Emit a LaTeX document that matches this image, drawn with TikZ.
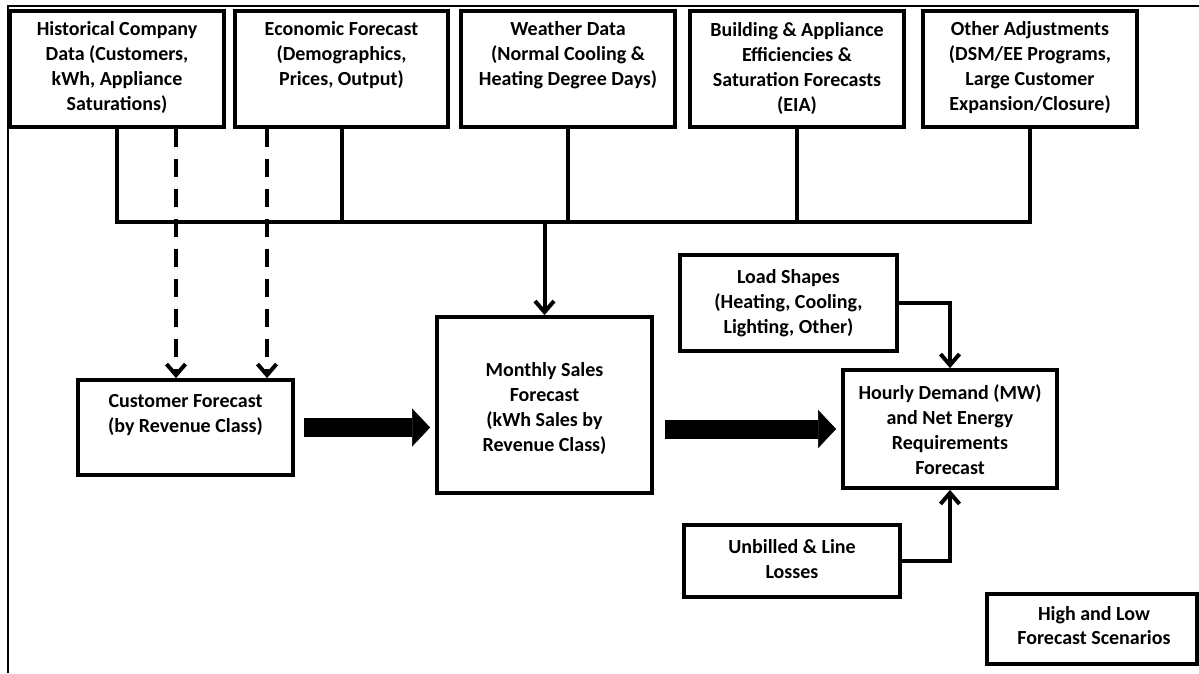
\documentclass[tikz,border=0pt]{standalone}
\usepackage{fontspec}
\setmainfont{Carlito}
\usetikzlibrary{arrows.meta,calc}
\begin{document}
\begin{tikzpicture}[x=1pt,y=-1pt,
  box/.style={draw, line width=3.8pt, inner sep=0pt, minimum width=#1},
  txt/.style={font=\fontsize{20}{25}\selectfont\bfseries, align=center, inner sep=0pt},
  conn/.style={line width=4pt},
  arr/.style={line width=4pt, -{Straight Barb[length=11pt,width=19pt]}},
  dasharr/.style={line width=4.5pt, dash pattern=on 18pt off 12pt, -{Straight Barb[length=11pt,width=19pt,line width=4pt]}},
  fat/.style={line width=19pt, -{Triangle[length=18pt,width=38pt,line width=0.5pt]}},
  frameline/.style={line width=2pt}
]
\useasboundingbox (0,0) rectangle (1199,673);
\clip (0,0) rectangle (1199,673);
\fill[white] (0,0) rectangle (1199,673);

% frame
\draw[frameline] (8,673) -- (8,6) -- (1199,6);

% top row boxes
\node[box=214, minimum height=116] (b1) at (117,69) {};
\node[box=213, minimum height=116] (b2) at (341.5,69) {};
\node[box=214, minimum height=116] (b3) at (568,69) {};
\node[box=214, minimum height=116] (b4) at (797,69) {};
\node[box=214, minimum height=116] (b5) at (1030,69) {};

\node[txt] (b1t) at (117,67) {Historical Company\\Data (Customers,\\kWh, Appliance\\Saturations)};
\node[txt] (b2t) at (341.5,55) {Economic Forecast\\(Demographics,\\Prices, Output)};
\node[txt] (b3t) at (568,55) {Weather Data\\(Normal Cooling \&\\Heating Degree Days)};
\node[txt] (b4t) at (797,68) {Building \& Appliance\\Efficiencies \&\\Saturation Forecasts\\(EIA)};
\node[txt] (b5t) at (1030,68) {Other Adjustments\\(DSM/EE Programs,\\Large Customer\\Expansion/Closure)};

% middle boxes
\node[box=215, minimum height=95] (cust) at (185.5,427.5) {};
\node[txt] (custt) at (185.5,415) {Customer Forecast\\(by Revenue Class)};

\node[box=215, minimum height=176] (mon) at (544.5,405) {};
\node[txt] (mont) at (544.5,408) {Monthly Sales\\Forecast\\(kWh Sales by\\Revenue Class)};

\node[box=217, minimum height=96] (load) at (788.5,303) {};
\node[txt] (loadt) at (788.5,303) {Load Shapes\\(Heating, Cooling,\\Lighting, Other)};

\node[box=214, minimum height=118] (hour) at (950,429) {};
\node[txt] (hourt) at (950,430) {Hourly Demand (MW)\\and Net Energy\\Requirements\\Forecast};

\node[box=216, minimum height=72] (unb) at (792,561) {};
\node[txt] (unbt) at (792,559) {Unbilled \& Line\\Losses};

\node[box=210, minimum height=70] (hl) at (1092,629) {};
\node[txt, font=\fontsize{20}{24}\selectfont\bfseries] (hlt) at (1094,626) {High and Low\\Forecast Scenarios};

% bus
\coordinate (busy) at (0,222);
\draw[conn] (b1.south) -- (b1.south |- busy) -- (b5.south |- busy) -- (b5.south);
\draw[conn] (b2.south) -- (b2.south |- busy);
\draw[conn] (b3.south) -- (b3.south |- busy);
\draw[conn] (b4.south) -- (b4.south |- busy);
\draw[arr] (mon.north |- busy) -- (mon.north);

% dashed arrows
\coordinate (d1) at (176,0);
\coordinate (d2) at (267,0);
\draw[dasharr] (b1.south -| d1) -- (cust.north -| d1);
\draw[dasharr] (b2.south -| d2) -- (cust.north -| d2);

% fat arrows
\draw[fat] ([xshift=9pt]cust.east) -- ([xshift=-5pt]cust.east -| mon.west);
\draw[fat] ([xshift=11pt]mon.east |- hour.west) -- ([xshift=-5pt]hour.west);

% side inputs
\draw[arr] (load.east) -| (hour.north);
\draw[arr] (unb.east) -| (hour.south);
\end{tikzpicture}
\end{document}
